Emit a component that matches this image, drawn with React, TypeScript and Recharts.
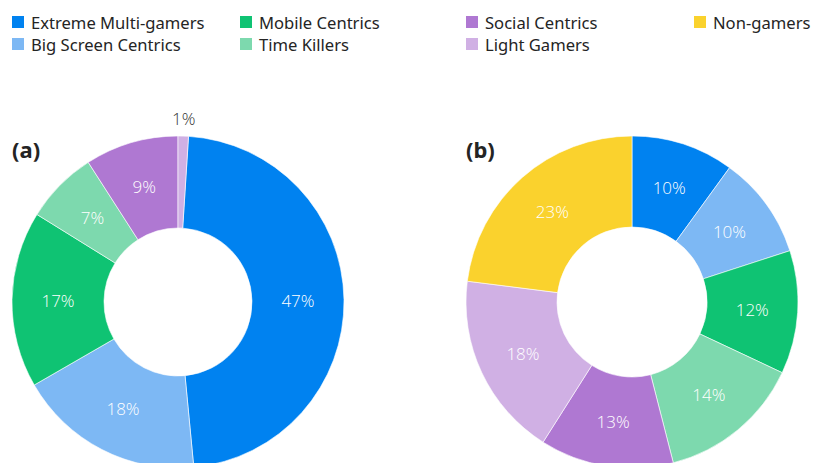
import React from "react";
import { PieChart, Pie, Cell } from "recharts";

const categories = [
  "Extreme Multi-gamers",
  "Big Screen Centrics",
  "Mobile Centrics",
  "Time Killers",
  "Social Centrics",
  "Light Gamers",
  "Non-gamers",
];
const colors = ["#0082F0", "#7DB8F4", "#0FC373", "#7DD9AE", "#AF78D2", "#D0B0E4", "#FAD22D"];

const valuesA = [47, 18, 17, 7, 9, 1];
const valuesB = [10, 10, 12, 14, 13, 18, 23];

const dataA = valuesA.map((v, i) => ({ name: categories[i], value: v, color: colors[i] }));
const dataB = valuesB.map((v, i) => ({ name: categories[i], value: v, color: colors[i] }));

const totalA = valuesA.reduce((a, b) => a + b, 0);
const startA = 90 - (valuesA[valuesA.length - 1] / totalA) * 360;

const legendColumns = [
  [0, 1],
  [2, 3],
  [4, 5],
  [6],
];
const legendX = [12, 240, 466, 694];

const RADIAN = Math.PI / 180;

const renderLabel = (props: any) => {
  const { cx, cy, midAngle, innerRadius, outerRadius, value } = props;
  const outside = value < 3;
  const r = outside ? outerRadius + 18 : (innerRadius + outerRadius) / 2;
  const x = cx + r * Math.cos(-midAngle * RADIAN);
  const y = cy + r * Math.sin(-midAngle * RADIAN);
  return (
    <text
      x={x}
      y={y}
      fill={outside ? "#333333" : "#ffffff"}
      textAnchor="middle"
      dominantBaseline="central"
      fontSize={17}
      fontWeight={300}
      fontFamily="'Open Sans', sans-serif"
    >
      {`${value}%`}
    </text>
  );
};

export default function App() {
  return (
    <div
      style={{
        position: "absolute",
        left: 0,
        top: 0,
        width: 818,
        height: 463,
        background: "#ffffff",
        overflow: "hidden",
        fontFamily: "'Noto Sans', sans-serif",
        color: "#242424",
      }}
    >
      {legendColumns.map((col, ci) =>
        col.map((idx, ri) => (
          <div
            key={`${ci}-${ri}`}
            style={{
              position: "absolute",
              left: legendX[ci],
              top: 11 + ri * 22,
              height: 22,
              display: "flex",
              alignItems: "center",
              fontSize: 16.6,
              whiteSpace: "nowrap",
            }}
          >
            <span
              style={{
                display: "inline-block",
                width: 12,
                height: 12,
                background: colors[idx],
                marginRight: 7,
              }}
            />
            {categories[idx]}
          </div>
        ))
      )}
      <div style={{ position: "absolute", left: 12, top: 134, fontSize: 22, fontWeight: 700 }}>(a)</div>
      <div style={{ position: "absolute", left: 466, top: 134, fontSize: 22, fontWeight: 700 }}>(b)</div>
      <div style={{ position: "absolute", left: 0, top: 0 }}>
        <PieChart width={818} height={463} margin={{ top: 0, right: 0, bottom: 0, left: 0 }}>
          <Pie
            data={dataA}
            dataKey="value"
            nameKey="name"
            cx={178}
            cy={302}
            innerRadius={74}
            outerRadius={166}
            startAngle={startA}
            endAngle={startA - 360}
            stroke="#ffffff"
            strokeWidth={0.6}
            label={renderLabel}
            labelLine={false}
            isAnimationActive={false}
          >
            {dataA.map((d, i) => (
              <Cell key={i} fill={d.color} />
            ))}
          </Pie>
          <Pie
            data={dataB}
            dataKey="value"
            nameKey="name"
            cx={632}
            cy={302}
            innerRadius={75}
            outerRadius={166}
            startAngle={90}
            endAngle={-270}
            stroke="#ffffff"
            strokeWidth={0.6}
            label={renderLabel}
            labelLine={false}
            isAnimationActive={false}
          >
            {dataB.map((d, i) => (
              <Cell key={i} fill={d.color} />
            ))}
          </Pie>
        </PieChart>
      </div>
    </div>
  );
}
